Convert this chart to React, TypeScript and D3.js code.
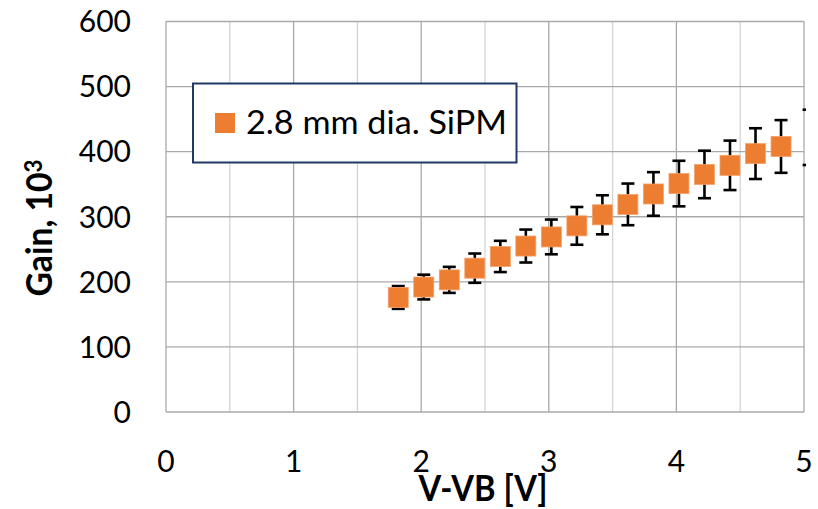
import React from "react";
import * as d3 from "d3";

// Gain of a 2.8 mm SiPM vs. overvoltage, with ±error bars
const overvoltage = [1.82, 2.02, 2.22, 2.42, 2.62, 2.82, 3.02, 3.22, 3.42, 3.62, 3.82, 4.02, 4.22, 4.42, 4.62, 4.82, 5.04];
const gain = [176, 192, 203, 221, 239, 255, 269, 286, 303, 319, 335, 351, 365, 379, 397, 408, 422];
const gainErr = [17.5, 19, 20, 22.5, 24, 25.3, 26.7, 29, 30, 32, 33.5, 35, 36.5, 38, 39, 40.5, 42.5];

const xTicks = [0, 1, 2, 3, 4, 5];
const xMinorGrid = [0.5, 1.5, 2.5, 3.5, 4.5];
const yTicks = [0, 100, 200, 300, 400, 500, 600];

const seriesName = "2.8 mm dia. SiPM";
const xTitle = "V-VB [V]";

const W = 818;
const H = 509;
const M = { left: 166, right: 804, top: 21.5, bottom: 412 };

const ORANGE = "#ED7D31";
const FONT = "Lato, 'Open Sans', sans-serif";

export default function App() {
  const x = d3.scaleLinear().domain([0, 5]).range([M.left, M.right]);
  const y = d3.scaleLinear().domain([0, 600]).range([M.bottom, M.top]);

  const points = overvoltage.map((v, i) => ({ v, g: gain[i], e: gainErr[i] }));
  // markers are only drawn for points inside the x-axis range
  const inRange = points.filter((p) => p.v <= x.domain()[1]);
  const markerSize = 20;
  const capHalf = 6.5;

  return (
    <div style={{ position: "fixed", left: 0, top: 0 }}>
      <svg width={W} height={H} style={{ display: "block", background: "#fff" }}>
        <defs>
          <clipPath id="errClip">
            <rect x={M.left} y={0} width={M.right - M.left + 2} height={H} />
          </clipPath>
        </defs>

        {/* grid */}
        {xMinorGrid.map((t) => (
          <line key={"xm" + t} x1={x(t)} x2={x(t)} y1={M.top} y2={M.bottom} stroke="#D4D4D4" strokeWidth={1.3} />
        ))}
        {xTicks.map((t) => (
          <line key={"xg" + t} x1={x(t)} x2={x(t)} y1={M.top} y2={M.bottom} stroke="#A9A9A9" strokeWidth={1.3} />
        ))}
        {yTicks.map((t) => (
          <line key={"yg" + t} x1={M.left} x2={M.right} y1={y(t)} y2={y(t)} stroke="#A9A9A9" strokeWidth={1.3} />
        ))}

        {/* y tick labels */}
        {yTicks.map((t) => (
          <text key={"yl" + t} x={131} y={y(t)} dy="0.36em" textAnchor="end" fontFamily={FONT} fontSize={30} fill="#000">
            {t}
          </text>
        ))}
        {/* x tick labels */}
        {xTicks.map((t) => (
          <text key={"xl" + t} x={x(t)} y={471.5} textAnchor="middle" fontFamily={FONT} fontSize={30} fill="#000">
            {t}
          </text>
        ))}

        {/* axis titles */}
        <text x={483} y={501} textAnchor="middle" fontFamily={FONT} fontWeight={700} fontSize={36} textLength={129} lengthAdjust="spacingAndGlyphs" fill="#000">
          {xTitle}
        </text>
        <text transform="translate(52,228) rotate(-90)" textAnchor="middle" fontFamily={FONT} fontWeight={700} fontSize={36} textLength={137} lengthAdjust="spacingAndGlyphs" fill="#000">
          Gain, 10<tspan dy="-0.4em" fontSize={24}>3</tspan>
        </text>

        {/* error bars */}
        <g clipPath="url(#errClip)" stroke="#000" strokeWidth={2.6}>
          {points.map((p, i) => (
            <g key={"e" + i}>
              <line x1={x(p.v)} x2={x(p.v)} y1={y(p.g + p.e)} y2={y(p.g - p.e)} />
              <line x1={x(p.v) - capHalf} x2={x(p.v) + capHalf} y1={y(p.g + p.e)} y2={y(p.g + p.e)} />
              <line x1={x(p.v) - capHalf} x2={x(p.v) + capHalf} y1={y(p.g - p.e)} y2={y(p.g - p.e)} />
            </g>
          ))}
        </g>

        {/* markers */}
        <g>
          {inRange.map((p, i) => (
            <rect
              key={"m" + i}
              x={x(p.v) - markerSize / 2}
              y={y(p.g) - markerSize / 2}
              width={markerSize}
              height={markerSize}
              fill={ORANGE}
              stroke="#F4A06A"
              strokeWidth={0.8}
            />
          ))}
        </g>

        {/* legend */}
        <rect x={193} y={83.5} width={323.5} height={79} fill="#fff" stroke="#203864" strokeWidth={2} />
        <rect x={215} y={113} width={20} height={20} fill={ORANGE} />
        <text x={246} y={133.5} fontFamily={FONT} fontSize={32} textLength={261} lengthAdjust="spacingAndGlyphs" fill="#000">
          {seriesName}
        </text>
      </svg>
    </div>
  );
}
